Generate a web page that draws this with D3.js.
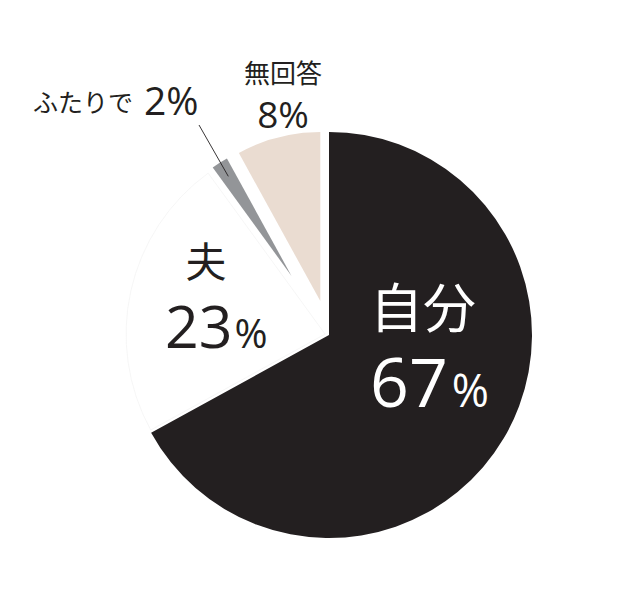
<!DOCTYPE html>
<html>
<head>
<meta charset="utf-8">
<script src="https://cdn.jsdelivr.net/npm/d3@7"></script>
<style>
  body { margin: 0; background: #fff; }
  svg { display: block; }
  .jp { font-family: "Noto Sans CJK JP", sans-serif; fill: #231f20; }
  .num { font-family: "Open Sans", "Noto Sans", sans-serif; fill: #231f20; }
</style>
</head>
<body>
<div id="chart"></div>
<script>
// data
var categories = ["自分", "夫", "ふたりで", "無回答"];
var values = [67, 23, 2, 8];
var pctLabels = ["67", "23", "2", "8"];

// styling per slice (kept apart from the data)
var colors = ["#231f20", "#ffffff", "#939598", "#eadcd1"];
var strokes = ["none", "#f2f2f2", "none", "none"];
var radii = [203, 199, 134, 169];
var offsets = [0, 4, 70, 35];

var width = 640, height = 604;
var cx = 329, cy = 335;

var svg = d3.select("#chart").append("svg")
	.attr("width", width)
	.attr("height", height);

var pie = d3.pie().sort(null).value(function(d){ return d.value; });
var rows = categories.map(function(c, i){
	return { name: c, value: values[i], pct: pctLabels[i], i: i };
});
var arcs = pie(rows);

var g = svg.append("g").attr("transform", "translate(" + cx + "," + cy + ")");

// each slice is pushed out along its middle angle
function shift(d){
	var a = (d.startAngle + d.endAngle) / 2;
	var o = offsets[d.data.i];
	return [Math.sin(a) * o, -Math.cos(a) * o];
}

g.selectAll(".slice")
	.data(arcs)
	.enter().append("path")
	.attr("class", "slice")
	.attr("transform", function(d){ return "translate(" + shift(d) + ")"; })
	.attr("d", function(d){
		return d3.arc().innerRadius(0).outerRadius(radii[d.data.i])(d);
	})
	.attr("fill", function(d){ return colors[d.data.i]; })
	.attr("stroke", function(d){ return strokes[d.data.i]; })
	.attr("stroke-width", 0.7);

// leader line to the thin grey slice
var two = arcs[2];
var s2 = shift(two);
var mid = (two.startAngle + two.endAngle) / 2;
var tip = [s2[0] + Math.sin(mid) * radii[2] * 0.88, s2[1] - Math.cos(mid) * radii[2] * 0.88];
g.append("line")
	.attr("x1", 199 - cx).attr("y1", 125 - cy)
	.attr("x2", tip[0]).attr("y2", tip[1])
	.attr("stroke", "#231f20")
	.attr("stroke-width", 0.9);

// labels
var lab = svg.append("g");

// 自分 67%
lab.append("text").attr("class", "jp").attr("x", 370).attr("y", 328)
	.attr("font-size", 53).style("fill", "#fff").text(categories[0]);
var t0 = lab.append("text").attr("class", "num").attr("x", 370).attr("y", 407)
	.style("fill", "#fff");
t0.append("tspan").attr("font-size", 68).text(pctLabels[0]);
t0.append("tspan").attr("font-size", 45).attr("dx", 4).text("%");

// 夫 23%
lab.append("text").attr("class", "jp").attr("x", 206).attr("y", 277)
	.attr("text-anchor", "middle").attr("font-size", 41).text(categories[1]);
var t1 = lab.append("text").attr("class", "num").attr("x", 165).attr("y", 348);
t1.append("tspan").attr("font-size", 59).text(pctLabels[1]);
t1.append("tspan").attr("font-size", 40).attr("dx", 2).text("%");

// ふたりで 2%
lab.append("text").attr("class", "jp").attr("x", 33).attr("y", 112)
	.attr("font-size", 25).text(categories[2]);
lab.append("text").attr("class", "num").attr("x", 144).attr("y", 115)
	.attr("font-size", 39).text(pctLabels[2] + "%");

// 無回答 8%
lab.append("text").attr("class", "jp").attr("x", 283).attr("y", 83)
	.attr("text-anchor", "middle").attr("font-size", 26).text(categories[3]);
lab.append("text").attr("class", "num").attr("x", 283).attr("y", 128)
	.attr("text-anchor", "middle").attr("font-size", 37).text(pctLabels[3] + "%");
</script>
</body>
</html>
